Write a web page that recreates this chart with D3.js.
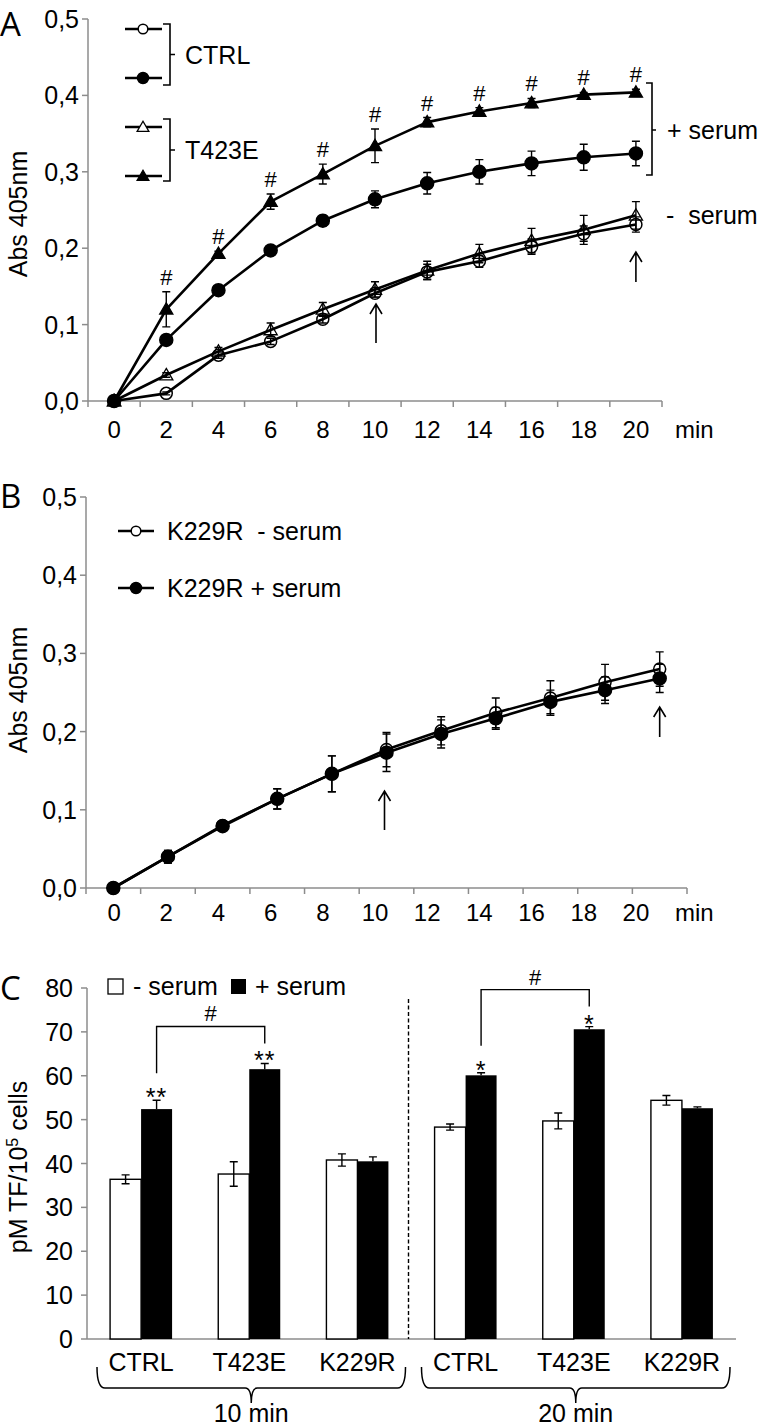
<!DOCTYPE html>
<html><head><meta charset="utf-8">
<script src="https://cdn.jsdelivr.net/npm/d3@7"></script>
<style>
body{margin:0;background:#fff}
svg{display:block}
text{font-family:"Liberation Sans",Arial,sans-serif;fill:#000}
</style>
</head><body>
<svg id="chart" width="760" height="1428"></svg>
<script>
// ---------- DATA ----------
const minutes = ["0","2","4","6","8","10","12","14","16","18","20"];
const yTicksAbs = [0, 0.1, 0.2, 0.3, 0.4, 0.5];

// Panel A
const ctrlMinus      = [0, 0.010, 0.060, 0.078, 0.107, 0.141, 0.169, 0.183, 0.202, 0.219, 0.231];
const ctrlMinusErr   = [0, 0.002, 0.004, 0.004, 0.005, 0.005, 0.010, 0.008, 0.010, 0.010, 0.010];
const ctrlPlus       = [0, 0.080, 0.145, 0.197, 0.236, 0.264, 0.285, 0.300, 0.311, 0.319, 0.324];
const ctrlPlusErr    = [0, 0.003, 0.003, 0.005, 0.007, 0.011, 0.014, 0.016, 0.016, 0.017, 0.016];
const t423eMinus     = [0, 0.034, 0.065, 0.093, 0.120, 0.146, 0.171, 0.193, 0.210, 0.224, 0.243];
const t423eMinusErr  = [0, 0.003, 0.005, 0.009, 0.009, 0.010, 0.012, 0.012, 0.016, 0.019, 0.018];
const t423ePlus      = [0, 0.120, 0.193, 0.261, 0.297, 0.334, 0.365, 0.379, 0.390, 0.401, 0.404];
const t423ePlusErr   = [0, 0.023, 0.003, 0.010, 0.013, 0.022, 0.006, 0.005, 0.006, 0.003, 0.004];
const hashMarksA     = ["", "#", "#", "#", "#", "#", "#", "#", "#", "#", "#"];

// Panel B
const k229rMinus     = [0, 0.040, 0.080, 0.114, 0.146, 0.177, 0.201, 0.224, 0.243, 0.263, 0.280];
const k229rMinusErr  = [0, 0.008, 0.004, 0.013, 0.023, 0.022, 0.018, 0.019, 0.022, 0.023, 0.022];
const k229rPlus      = [0, 0.040, 0.079, 0.114, 0.146, 0.173, 0.197, 0.217, 0.238, 0.253, 0.268];
const k229rPlusErr   = [0, 0.008, 0.004, 0.013, 0.023, 0.024, 0.018, 0.014, 0.015, 0.017, 0.018];

// Panel C
const groupIds    = ["CTRL-10","T423E-10","K229R-10","CTRL-20","T423E-20","K229R-20"];
const groupLabels = ["CTRL","T423E","K229R","CTRL","T423E","K229R"];
const minusSerum  = [36.4, 37.6, 40.8, 48.3, 49.7, 54.4];
const minusErr    = [1.0, 2.8, 1.4, 0.7, 1.8, 1.1];
const plusSerum   = [52.4, 61.5, 40.5, 60.1, 70.6, 52.6];
const plusErr     = [2.0, 1.3, 1.0, 0.6, 0.6, 0.3];
const plusStars   = ["**", "**", "", "*", "*", ""];
const yTicksC     = [0,10,20,30,40,50,60,70,80];
const timeGroups  = [{label:"10 min", from:0, to:2}, {label:"20 min", from:3, to:5}];
const sigPairs    = [{a:0, b:1, label:"#"}, {a:3, b:4, label:"#"}];

// ---------- DRAW ----------
const svg = d3.select("#chart");
const AX = "#8c8c8c";
const fmtComma = d => d3.format(".1f")(d).replace(".", ",");

function yAxis(g, y, ticks, fmt, x0, labelRight) {
  g.append("line").attr("x1", x0).attr("x2", x0)
    .attr("y1", y(ticks[ticks.length-1])).attr("y2", y(ticks[0]))
    .attr("stroke", AX).attr("stroke-width", 1.5);
  ticks.forEach(t => {
    g.append("line").attr("x1", x0-6).attr("x2", x0).attr("y1", y(t)).attr("y2", y(t))
      .attr("stroke", AX).attr("stroke-width", 1.5);
    g.append("text").attr("x", labelRight).attr("y", y(t)).attr("dy", "0.36em")
      .attr("text-anchor", "end").style("font-size", "25px").text(fmt(t));
  });
}

function xCatAxis(g, x, xLab, yPos, labelY) {
  const [r0, r1] = x.range();
  g.append("line").attr("x1", r0).attr("x2", r1).attr("y1", yPos).attr("y2", yPos)
    .attr("stroke", AX).attr("stroke-width", 1.5);
  const step = x.step();
  d3.range(x.domain().length + 1).forEach(i => {
    const xx = r0 + i*step;
    g.append("line").attr("x1", xx).attr("x2", xx).attr("y1", yPos).attr("y2", yPos+6)
      .attr("stroke", AX).attr("stroke-width", 1.5);
  });
  x.domain().forEach(d => {
    g.append("text").attr("x", xLab(d) + xLab.bandwidth()/2).attr("y", labelY).attr("dy", "0.36em")
      .attr("text-anchor", "middle").style("font-size", "24px").text(d);
  });
  g.append("text").attr("x", xLab.range()[1] + 13).attr("y", labelY).attr("dy", "0.36em")
    .style("font-size", "24px").text("min");
}

function yLabel(g, text, cx, cy) {
  g.append("text").attr("transform", `translate(${cx},${cy}) rotate(-90)`)
    .attr("text-anchor", "middle").style("font-size", "25px").text(text);
}

function series(g, x, y, vals, errs, marker, filled) {
  const cx = i => x(minutes[i]) + x.bandwidth()/2;
  vals.forEach((v, i) => {
    if (!errs[i]) return;
    const xx = cx(i), yt = y(v+errs[i]), yb = y(v-errs[i]);
    g.append("path").attr("d", `M${xx},${yt}V${yb}M${xx-4},${yt}H${xx+4}M${xx-4},${yb}H${xx+4}`)
      .attr("stroke", "#000").attr("stroke-width", 1.4).attr("fill", "none");
  });
  const line = d3.line().x((d, i) => cx(i)).y(d => y(d));
  g.append("path").attr("d", line(vals)).attr("fill", "none")
    .attr("stroke", "#000").attr("stroke-width", 2.6).attr("stroke-linejoin", "round");
  vals.forEach((v, i) => drawMarker(g, cx(i), y(v), marker, filled, false));
}

function drawMarker(g, x, y, marker, filled, legend) {
  if (marker === "circle") {
    g.append("circle").attr("cx", x).attr("cy", y).attr("r", legend ? (filled ? 5.5 : 4.8) : (filled ? 6.5 : 6))
      .attr("fill", filled ? "#000" : (legend ? "#fff" : "none"))
      .attr("stroke", "#000").attr("stroke-width", 1.5);
  } else {
    g.append("path").attr("transform", `translate(${x},${y+1})`)
      .attr("d", d3.symbol(d3.symbolTriangle, legend ? 60 : 75)())
      .attr("fill", filled ? "#000" : (legend ? "#fff" : "none"))
      .attr("stroke", "#000").attr("stroke-width", 1.3);
  }
}

function arrow(g, x, yTip, len) {
  g.append("path").attr("d", `M${x},${yTip+len}V${yTip}M${x-6},${yTip+10}L${x},${yTip}L${x+6},${yTip+10}`)
    .attr("stroke", "#000").attr("stroke-width", 1.6).attr("fill", "none");
}

function panelLetter(text, x, y) {
  svg.append("text").attr("x", x).attr("y", y)
    .style("font-family", "'Open Sans','DejaVu Sans',sans-serif").style("font-size", "33px").text(text);
}

// ======== PANEL A ========
const gA = svg.append("g");
const yA = d3.scaleLinear().domain([0, 0.5]).range([401, 19]);
const xA = d3.scaleBand().domain(minutes).range([88, 662]);
yAxis(gA, yA, yTicksAbs, fmtComma, 88, 79);
xCatAxis(gA, xA, xA, 401, 429);
yLabel(gA, "Abs 405nm", 27, 214);
panelLetter("A", 0, 36);

series(gA, xA, yA, ctrlMinus, ctrlMinusErr, "circle", false);
series(gA, xA, yA, t423eMinus, t423eMinusErr, "triangle", false);
series(gA, xA, yA, ctrlPlus, ctrlPlusErr, "circle", true);
series(gA, xA, yA, t423ePlus, t423ePlusErr, "triangle", true);

hashMarksA.forEach((h, i) => {
  if (!h) return;
  gA.append("text").attr("x", xA(minutes[i]) + xA.bandwidth()/2)
    .attr("y", yA(t423ePlus[i] + t423ePlusErr[i]) - 7)
    .attr("text-anchor", "middle").style("font-size", "22px").text(h);
});
arrow(gA, xA("10") + xA.bandwidth()/2 + 1, 304, 39);
arrow(gA, xA("20") + xA.bandwidth()/2, 252, 30);

// legend A
[{y:29, m:"circle", f:false}, {y:78, m:"circle", f:true},
 {y:127, m:"triangle", f:false}, {y:176, m:"triangle", f:true}].forEach(o => {
  gA.append("line").attr("x1", 125).attr("x2", 162).attr("y1", o.y).attr("y2", o.y)
    .attr("stroke", "#000").attr("stroke-width", 2.6);
  drawMarker(gA, 143, o.y, o.m, o.f, true);
});
[{y0:24, y1:85, label:"CTRL"}, {y0:119, y1:181, label:"T423E"}].forEach(b => {
  const m = (b.y0 + b.y1)/2;
  gA.append("path").attr("d", `M163,${b.y0}H170V${b.y1}H163M170,${m}H175`)
    .attr("stroke", "#000").attr("stroke-width", 1.6).attr("fill", "none");
  gA.append("text").attr("x", 185).attr("y", m).attr("dy", "0.36em").style("font-size", "25px").text(b.label);
});
gA.append("path").attr("d", "M646,83H652V175H646M652,130H656")
  .attr("stroke", "#000").attr("stroke-width", 1.6).attr("fill", "none");
gA.append("text").attr("x", 667).attr("y", 130).attr("dy", "0.36em").style("font-size", "25px").text("+ serum");
gA.append("text").attr("x", 666).attr("y", 215).attr("dy", "0.36em").style("font-size", "25px")
  .style("white-space", "pre").text("-  serum");

// ======== PANEL B ========
const gB = svg.append("g");
const yB = d3.scaleLinear().domain([0, 0.5]).range([888, 497]);
const xB = d3.scaleBand().domain(minutes).range([86, 687]);
const xBLab = d3.scaleBand().domain(minutes).range([88, 662]);
yAxis(gB, yB, yTicksAbs, fmtComma, 86, 77);
xCatAxis(gB, xB, xBLab, 888, 912);
yLabel(gB, "Abs 405nm", 27, 690);
panelLetter("B", 0, 508);

series(gB, xB, yB, k229rMinus, k229rMinusErr, "circle", false);
series(gB, xB, yB, k229rPlus, k229rPlusErr, "circle", true);
arrow(gB, xB("10") + xB.bandwidth()/2 - 2, 791, 39);
arrow(gB, xB("20") + xB.bandwidth()/2, 707, 30);

[{y:531, f:false, t:"K229R  - serum"}, {y:588, f:true, t:"K229R + serum"}].forEach(o => {
  gB.append("line").attr("x1", 118).attr("x2", 154).attr("y1", o.y).attr("y2", o.y)
    .attr("stroke", "#000").attr("stroke-width", 2.6);
  drawMarker(gB, 136, o.y, "circle", o.f, true);
  gB.append("text").attr("x", 167).attr("y", o.y).attr("dy", "0.36em").style("font-size", "25px")
    .style("white-space", "pre").text(o.t);
});

// ======== PANEL C ========
const gC = svg.append("g");
const yC = d3.scaleLinear().domain([0, 80]).range([1339, 988]);
const xC = d3.scaleBand().domain(groupIds).range([87, 736]);
yAxis(gC, yC, yTicksC, d => d, 87, 73);
gC.append("line").attr("x1", 87).attr("x2", 736).attr("y1", 1339).attr("y2", 1339)
  .attr("stroke", AX).attr("stroke-width", 1.5);
panelLetter("C", 0, 1000);

const bw = 31;
const gc = i => xC(groupIds[i]) + xC.bandwidth()/2;
groupIds.forEach((id, i) => {
  const c = gc(i);
  gC.append("rect").attr("x", c - bw).attr("y", yC(minusSerum[i])).attr("width", bw)
    .attr("height", yC(0) - yC(minusSerum[i])).attr("fill", "#fff").attr("stroke", "#000").attr("stroke-width", 1.4);
  gC.append("rect").attr("x", c).attr("y", yC(plusSerum[i])).attr("width", bw)
    .attr("height", yC(0) - yC(plusSerum[i])).attr("fill", "#000");
  const xm = c - bw/2, ymt = yC(minusSerum[i] + minusErr[i]), ymb = yC(minusSerum[i] - minusErr[i]);
  gC.append("path").attr("d", `M${xm},${ymt}V${ymb}M${xm-4},${ymt}H${xm+4}M${xm-4},${ymb}H${xm+4}`)
    .attr("stroke", "#000").attr("stroke-width", 1.4).attr("fill", "none");
  const xx = c + bw/2, yt = yC(plusSerum[i] + plusErr[i]), yb = yC(plusSerum[i]);
  gC.append("path").attr("d", `M${xx},${yt}V${yb}M${xx-4},${yt}H${xx+4}`)
    .attr("stroke", "#000").attr("stroke-width", 1.4).attr("fill", "none");
  if (plusStars[i]) {
    gC.append("text").attr("x", xx).attr("y", yt + 6).attr("text-anchor", "middle")
      .style("font-size", "25px").style("letter-spacing", "1px").text(plusStars[i]);
  }
  gC.append("text").attr("x", c).attr("y", 1362).attr("dy", "0.36em").attr("text-anchor", "middle")
    .style("font-size", "25px").text(groupLabels[i]);
});

// significance brackets
sigPairs.forEach(p => {
  const xa = gc(p.a) + bw/2, xb = gc(p.b) + bw/2;
  const ta = yC(plusSerum[p.a] + plusErr[p.a]), tb = yC(plusSerum[p.b] + plusErr[p.b]);
  const top = Math.min(ta, tb) - 37;
  gC.append("path").attr("d", `M${xa},${ta - 27}V${top}H${xb}V${tb - 20}`)
    .attr("stroke", "#000").attr("stroke-width", 1.4).attr("fill", "none");
  gC.append("text").attr("x", (xa + xb)/2).attr("y", top - 5).attr("text-anchor", "middle")
    .style("font-size", "22px").text(p.label);
});

// dashed divider
const divX = xC(groupIds[3]) - 3;
gC.append("line").attr("x1", divX).attr("x2", divX).attr("y1", yC(77.5)).attr("y2", yC(0))
  .attr("stroke", "#000").attr("stroke-width", 1.4).attr("stroke-dasharray", "4,2.5");

// braces
timeGroups.forEach(t => {
  const x0 = xC(groupIds[t.from]) + 10, x1 = xC(groupIds[t.to]) + xC.bandwidth() - 6;
  const cx = (x0 + x1)/2, y0 = 1367, y1 = 1388, y2 = 1403;
  gC.append("path").attr("d",
    `M${x0},${y0}Q${x0},${y1} ${x0+8},${y1}L${cx-6},${y1}Q${cx},${y1} ${cx},${y2}Q${cx},${y1} ${cx+6},${y1}L${x1-8},${y1}Q${x1},${y1} ${x1},${y0}`)
    .attr("stroke", "#000").attr("stroke-width", 1.5).attr("fill", "none");
  gC.append("text").attr("x", cx).attr("y", 1413).attr("dy", "0.36em").attr("text-anchor", "middle")
    .style("font-size", "25px").text(t.label);
});

// legend C
gC.append("rect").attr("x", 108).attr("y", 979).attr("width", 15).attr("height", 15)
  .attr("fill", "#fff").attr("stroke", "#000").attr("stroke-width", 1.3);
gC.append("text").attr("x", 133).attr("y", 986).attr("dy", "0.36em").style("font-size", "25px").text("- serum");
gC.append("rect").attr("x", 231).attr("y", 979).attr("width", 15).attr("height", 15).attr("fill", "#000");
gC.append("text").attr("x", 255).attr("y", 986).attr("dy", "0.36em").style("font-size", "25px").text("+ serum");

// y label C with superscript
const yl = gC.append("text").attr("transform", "translate(27,1167) rotate(-90)")
  .attr("text-anchor", "middle").style("font-size", "25px");
yl.append("tspan").text("pM TF/10");
yl.append("tspan").attr("dy", "-9").style("font-size", "16px").text("5");
yl.append("tspan").attr("dy", "9").text(" cells");
</script>
</body></html>
